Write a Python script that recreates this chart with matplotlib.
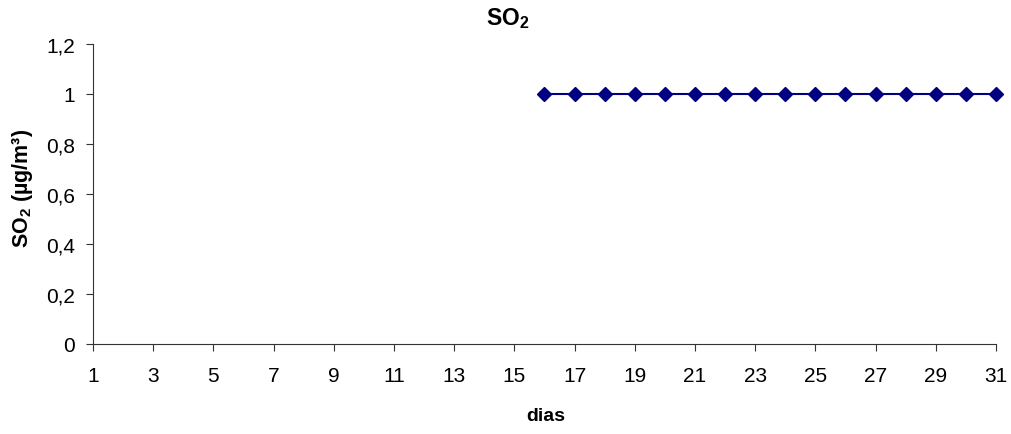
import matplotlib
matplotlib.use("Agg")
import matplotlib.pyplot as plt

plt.rcParams['font.family'] = ['Liberation Sans', 'DejaVu Sans']
plt.rcParams['mathtext.fontset'] = 'custom'
plt.rcParams['mathtext.rm'] = 'Liberation Sans'
plt.rcParams['mathtext.bf'] = 'Liberation Sans:bold'

days = list(range(1, 32))
so2_days = list(range(16, 32))
so2_values = [1] * 16
x_tick_labels = [str(d) for d in range(1, 32, 2)]
y_ticks = [0, 0.2, 0.4, 0.6, 0.8, 1, 1.2]
y_tick_labels = ['0', '0,2', '0,4', '0,6', '0,8', '1', '1,2']

W, H = 1012, 435
fig = plt.figure(figsize=(W / 100, H / 100), dpi=100)
left, right, top, bottom = 93, 996, 45, 345
ax = fig.add_axes([left / W, 1 - bottom / H, (right - left) / W, (bottom - top) / H])

ax.plot(so2_days, so2_values, color='#000080', linewidth=1.5, marker='D',
        markersize=7.5, markerfacecolor='#000080', markeredgecolor='#000080', zorder=3,
        clip_on=False)

ax.set_xlim(1, 31)
ax.set_ylim(0, 1.2)
ax.set_xticks(list(range(1, 32, 2)))
ax.set_xticklabels(x_tick_labels)
ax.set_yticks(y_ticks)
ax.set_yticklabels(y_tick_labels)

for s in ['top', 'right']:
    ax.spines[s].set_visible(False)
for s in ['left', 'bottom']:
    ax.spines[s].set_linewidth(0.8)
    ax.spines[s].set_color('#333333')

ax.tick_params(axis='both', labelsize=15, length=5, width=0.8, color='#333333', direction='out')
ax.tick_params(axis='x', pad=10.5)
ax.tick_params(axis='y', pad=8)

fig.text(508 / W, 1 - 19 / H, r'SO$_\mathbf{2}$', ha='center', va='center', fontsize=16.5, fontweight='bold')
fig.text(546 / W, 1 - 417 / H, 'dias', ha='center', va='center', fontsize=14, fontweight='bold')
fig.text(23 / W, 1 - 188 / H, r'SO$_\mathbf{2}$ (µg/m³)', ha='center', va='center', rotation=90,
         fontsize=15.5, fontweight='bold')

fig.savefig('out.png', dpi=100)
